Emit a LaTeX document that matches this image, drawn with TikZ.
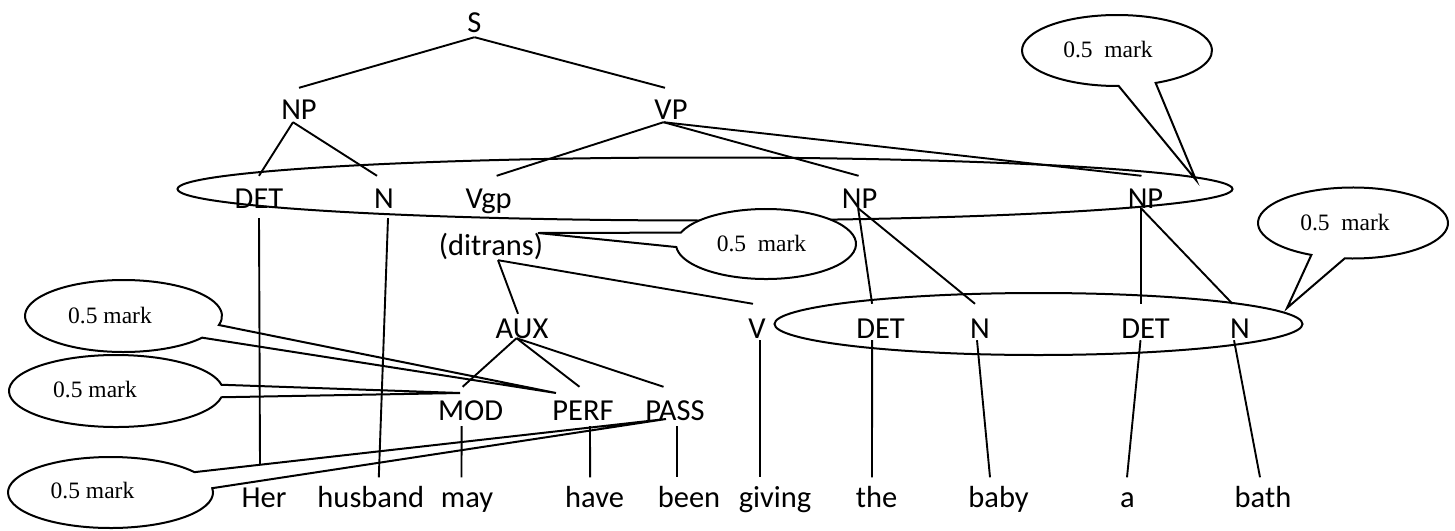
\documentclass[tikz,border=0pt]{standalone}
\usepackage{fontspec}
\newfontfamily\treefont{Carlito}
\newfontfamily\markfont{Liberation Serif}
\pgfdeclarelayer{bg}
\pgfsetlayers{bg,main}
\begin{document}
\begin{tikzpicture}[x=1pt,y=-1pt,
  lab/.style={font={\treefont\fontsize{30.5}{36}\selectfont}, inner sep=0pt, anchor=base},
  toprow/.style={lab, text height=20pt, text depth=5pt},
  rowa/.style={lab, text height=31pt, text depth=3pt},
  rowb/.style={lab, text height=32pt, text depth=0pt},
  rowc/.style={lab, text height=34pt, text depth=2pt},
  rowd/.style={lab, text height=33pt, text depth=6pt},
  word/.style={lab, text height=29.5pt, text depth=0pt},
  marktext/.style={font={\markfont\fontsize{23.5}{28}\selectfont}, inner sep=0pt},
  branch/.style={line width=1.9pt},
  group/.style={line width=2pt},
  callout/.style={line width=2pt, fill=white, line join=miter}]
\useasboundingbox (0,0) rectangle (1455,530);

% tree labels
\node[toprow] (S) at (474.5,32) {S};
\node[rowa] (NPa) at (299,119) {NP};
\node[rowa] (VP) at (671,119) {VP};
\node[rowb, text depth=10pt] (DETa) at (259,208) {DET};
\node[rowb, text depth=10pt] (Na) at (384,208) {N};
\node[rowb] (Vgp) at (488.6,208) {Vgp};
\node[rowb] (NPb) at (859.6,208) {NP};
\node[rowb] (NPc) at (1145.5,208) {NP};
\node[lab, text height=22pt, text depth=5pt] (dit) at (491,255) {(ditrans)};
\node[lab, text height=24pt, text depth=0pt] (AUX) at (522,338) {AUX};
\node[rowc] (V) at (757,338) {V};
\node[rowc] (DETb) at (880.6,338) {DET};
\node[rowc] (Nb) at (980,338) {N};
\node[rowc] (DETc) at (1145.5,338) {DET};
\node[rowc] (Nc) at (1240,338) {N};
\node[rowd] (MOD) at (470.6,420) {MOD};
\node[rowd] (PERF) at (583,420) {PERF};
\node[rowd] (PASS) at (675,420) {PASS};

% the sentence
\node[word] (Her) at (264,507) {Her};
\node[word] (husband) at (370.8,507) {husband};
\node[word] (may) at (467,507) {may};
\node[word] (have) at (594.6,507) {have};
\node[word] (been) at (689,507) {been};
\node[word] (giving) at (775,507) {giving};
\node[word] (the) at (876.5,507) {the};
\node[word] (baby) at (998.6,507) {baby};
\node[word] (a) at (1127.5,507) {a};
\node[word] (bath) at (1263,507) {bath};

% callout texts
\node[marktext] (mkTop) at (1108,50) {0.5\ \ mark};
\node[marktext] (mkRight) at (1345,222.5) {0.5\ \ mark};
\node[marktext] (mkMid) at (761.5,243.5) {0.5\ \ mark};
\node[marktext] (mkL1) at (110,315.5) {0.5 mark};
\node[marktext] (mkL2) at (95,390) {0.5 mark};
\node[marktext] (mkL3) at (92.5,490.5) {0.5 mark};

% callout tips
\coordinate (tipTop) at (1196,180);
\coordinate (tipRight) at (1287,308);
\coordinate (tipMid) at (538,233);
\coordinate (tipL1) at (556,393);
\coordinate (tipL2) at (460,393);
\coordinate (tipL3) at (666,419);

\begin{pgfonlayer}{bg}
  % grouping ellipses
  \draw[group] (705,189) ellipse [x radius=527.5, y radius=31.5];
  \draw[group] (1038.5,324) ellipse [x radius=264, y radius=31];
  % speech-bubble callouts
  \draw[callout] (1117,50.5) ++(89:95 and 35.5)
    arc[start angle=89, end angle=426, x radius=95, y radius=35.5] -- (tipTop) -- cycle;
  \draw[callout] (1353,223) ++(116:95 and 35.5)
    arc[start angle=116, end angle=455, x radius=95, y radius=35.5] -- (tipRight) -- cycle;
  \draw[callout] (766,244) ++(199:90 and 35)
    arc[start angle=199, end angle=535, x radius=90, y radius=35] -- (tipMid) -- cycle;
  \draw[callout] (123.5,316) ++(37:98.5 and 36)
    arc[start angle=37, end angle=374.5, x radius=98.5, y radius=36] -- (tipL1) -- cycle;
  \draw[callout] (116,391) ++(10:107 and 36)
    arc[start angle=10, end angle=350, x radius=107, y radius=36] -- (tipL2) -- cycle;
  \draw[callout] (110.5,492.5) ++(-7:102.5 and 35.5)
    arc[start angle=-7, end angle=325, x radius=102.5, y radius=35.5] -- (tipL3) -- cycle;
\end{pgfonlayer}

% branches
\draw[branch] (S.south) -- (NPa.north);
\draw[branch] (S.south) -- ([xshift=-6pt]VP.north);
\draw[branch] ([xshift=-6pt]NPa.south) -- (DETa.north);
\draw[branch] ([xshift=-6pt]NPa.south) -- ([xshift=-7pt]Na.north);
\draw[branch] ([xshift=-7.5pt]VP.south) -- ([xshift=8pt]Vgp.north);
\draw[branch] ([xshift=-7.5pt]VP.south) -- ([xshift=-1pt]NPb.north);
\draw[branch] ([xshift=-7.5pt]VP.south) -- ([xshift=-4pt]NPc.north);
\draw[branch] (DETa.south) -- ([xshift=-4pt,yshift=12.5pt]Her.north);
\draw[branch] ([xshift=4pt]Na.south) -- ([xshift=8pt]husband.north);
\draw[branch] ([xshift=7pt]dit.south) -- ([xshift=-4pt]AUX.north);
\draw[branch] ([xshift=7pt]dit.south) -- ([xshift=-4pt]V.north);
\draw[branch] ([xshift=-5.5pt]AUX.south) -- ([xshift=-8pt]MOD.north);
\draw[branch] ([xshift=-5.5pt]AUX.south) -- ([xshift=-3.5pt]PERF.north);
\draw[branch] ([xshift=-5.5pt]AUX.south) -- ([xshift=-11.5pt]PASS.north);
\draw[branch] ([xshift=-9pt]MOD.south) -- ([xshift=-5.5pt]may.north);
\draw[branch] ([xshift=7pt]PERF.south) -- ([xshift=-4.5pt]have.north);
\draw[branch] ([xshift=2pt]PASS.south) -- ([xshift=-12pt]been.north);
\draw[branch] ([xshift=3pt]V.south) -- ([xshift=-15pt]giving.north);
\draw[branch] ([xshift=-1.5pt]NPb.south) -- ([xshift=-8.5pt]DETb.north);
\draw[branch] ([xshift=-1.5pt]NPb.south) -- ([xshift=-5pt]Nb.north);
\draw[branch] ([xshift=-4.5pt]NPc.south) -- ([xshift=-4.5pt]DETc.north);
\draw[branch] ([xshift=-4.5pt]NPc.south) -- ([xshift=-7.5pt]Nc.north);
\draw[branch] ([xshift=-8.5pt]DETb.south) -- ([xshift=-4.5pt]the.north);
\draw[branch] ([xshift=-3pt]Nb.south) -- ([xshift=-8.6pt]baby.north);
\draw[branch] ([xshift=-5pt]DETc.south) -- ([xshift=-0.5pt]a.north);
\draw[branch] ([xshift=-6pt]Nc.south) -- ([xshift=-3pt]bath.north);
\end{tikzpicture}
\end{document}
